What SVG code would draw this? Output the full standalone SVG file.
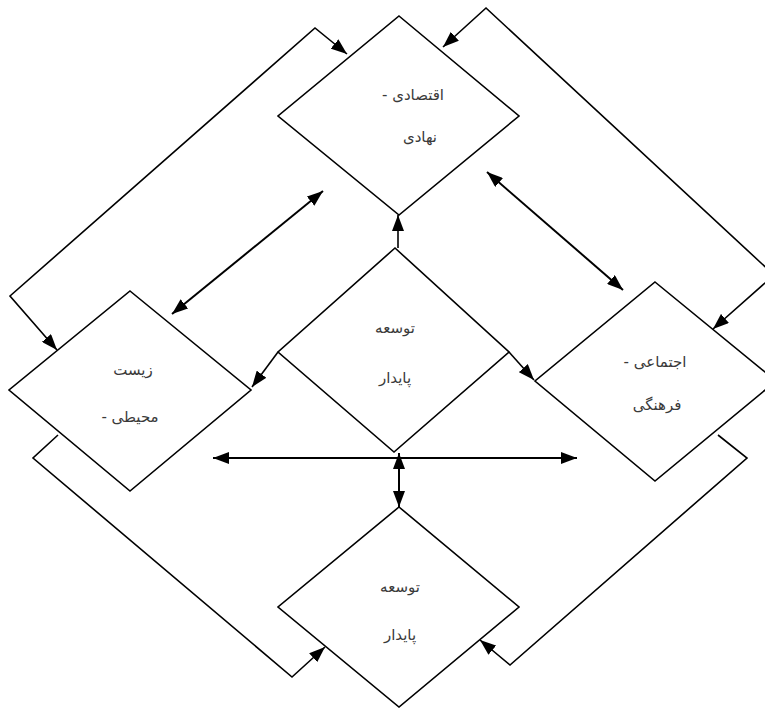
<svg xmlns="http://www.w3.org/2000/svg" width="765" height="708" viewBox="0 0 765 708">
<defs>
<style>
.node polygon{fill:#fff;stroke:#000;stroke-width:1.6}
.node text{font-family:"DejaVu Sans","Noto Sans",sans-serif;font-size:15px;fill:#3a3a3a;text-anchor:middle;direction:rtl}
.conn polyline,.conn line{fill:none;stroke:#000;stroke-width:1.6}
.conn .dbl{stroke-width:2}
</style>
<marker id="ah" viewBox="0 0 16 12" refX="16" refY="6" markerWidth="16" markerHeight="12" markerUnits="userSpaceOnUse" orient="auto-start-reverse">
<path d="M0,0 L16,6 L0,12 z" fill="#000"/>
</marker>
</defs>
<rect width="765" height="708" fill="#fff"/>
<g id="node-top" class="node">
<polygon points="399,16 519,116 399,215 278,116"/>
<text x="413" y="100">اقتصادی -</text>
<text x="420" y="142">نهادی</text>
</g>
<g id="node-left" class="node">
<polygon points="130,291 251,390 130,491 9,390"/>
<text x="133" y="375">زیست</text>
<text x="130" y="422">محیطی -</text>
</g>
<g id="node-right" class="node">
<polygon points="655,282 776,381 655,481 535,381"/>
<text x="655" y="367">اجتماعی -</text>
<text x="657" y="410">فرهنگی</text>
</g>
<g id="node-center" class="node">
<polygon points="395,248 509,352 394,452 278,352"/>
<text x="395" y="333">توسعه</text>
<text x="395" y="383">پایدار</text>
</g>
<g id="node-bottom" class="node">
<polygon points="399,507 519,607 399,707 278,607"/>
<text x="400" y="592">توسعه</text>
<text x="400" y="640">پایدار</text>
</g>
<g id="connectors" class="conn">
<polyline points="347,54 315,28 10,296 57,350" marker-start="url(#ah)" marker-end="url(#ah)"/>
<polyline points="443,47 486,8 774,275 713,329" marker-start="url(#ah)" marker-end="url(#ah)"/>
<polyline points="58,435 33,458 292,677 325,647" marker-end="url(#ah)"/>
<polyline points="718,435 747,458 510,665 480,640" marker-end="url(#ah)"/>
<line class="dbl" x1="323" y1="191" x2="172" y2="314" marker-start="url(#ah)" marker-end="url(#ah)"/>
<line class="dbl" x1="487" y1="172" x2="623" y2="290" marker-start="url(#ah)" marker-end="url(#ah)"/>
<line x1="278" y1="352" x2="252" y2="387" marker-end="url(#ah)"/>
<line x1="509" y1="352" x2="534" y2="380" marker-end="url(#ah)"/>
<line x1="398" y1="248" x2="398" y2="215" marker-end="url(#ah)"/>
<line class="dbl" x1="213" y1="458" x2="577" y2="458" marker-start="url(#ah)" marker-end="url(#ah)"/>
<line class="dbl" x1="399" y1="453" x2="399" y2="507" marker-start="url(#ah)" marker-end="url(#ah)"/>
</g>
</svg>
